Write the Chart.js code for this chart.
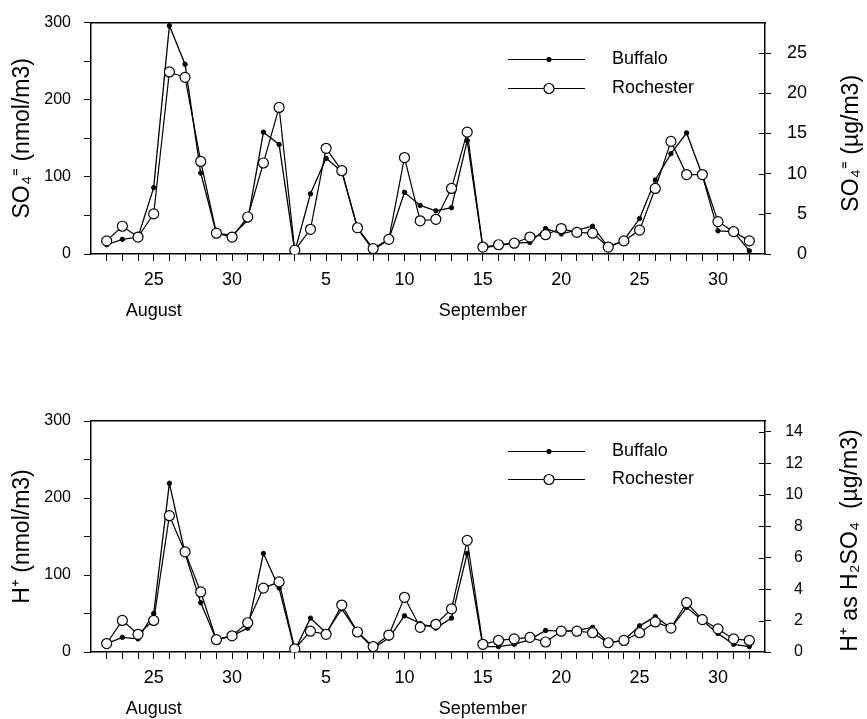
<!DOCTYPE html>
<html>
<head>
<meta charset="utf-8">
<script src="https://cdn.jsdelivr.net/npm/chart.js@4.4.0/dist/chart.umd.min.js"></script>
<style>
html,body{margin:0;padding:0;background:#fff;}
.wrap{position:absolute;left:0;width:867px;}
#w1{top:0;height:340px;}
#w2{top:340px;height:379px;}
canvas{display:block;}
</style>
</head>
<body>
<div class="wrap" id="w1"><canvas id="c1"></canvas></div>
<div class="wrap" id="w2"><canvas id="c2"></canvas></div>
<script>
// ---- data ----
const days = ['Aug 22','Aug 23','Aug 24','Aug 25','Aug 26','Aug 27','Aug 28','Aug 29','Aug 30','Aug 31',
  'Sep 1','Sep 2','Sep 3','Sep 4','Sep 5','Sep 6','Sep 7','Sep 8','Sep 9','Sep 10',
  'Sep 11','Sep 12','Sep 13','Sep 14','Sep 15','Sep 16','Sep 17','Sep 18','Sep 19','Sep 20',
  'Sep 21','Sep 22','Sep 23','Sep 24','Sep 25','Sep 26','Sep 27','Sep 28','Sep 29','Sep 30',
  'Oct 1','Oct 2'];
const dayTickLabels = ['Aug 25','Aug 30','Sep 5','Sep 10','Sep 15','Sep 20','Sep 25','Sep 30'];
const monthAnchorDays = ['Aug 25','Sep 15'];
const monthLabels = ['August','September'];
const seriesNames = ['Buffalo','Rochester'];

// SO4= (nmol/m3)
const so4Buffalo   = [12,19,22,86,296,246,105,27,24,44,158,142,3,78,124,107,33,5,19,80,63,56,60,147,8,11,14,15,33,26,31,36,9,18,46,96,130,157,102,30,29,4];
const so4Rochester = [17,36,22,52,236,229,120,27,22,48,118,190,5,32,137,108,34,7,19,125,43,45,85,158,9,12,14,22,25,33,28,27,9,17,31,85,146,103,103,42,29,17];
// H+ (nmol/m3)
const hBuffalo   = [11,19,17,50,219,128,64,16,21,31,128,83,2,44,25,56,26,5,18,47,37,31,44,128,7,7,10,16,28,27,28,32,12,15,34,46,31,58,41,24,10,7];
const hRochester = [11,41,23,41,177,130,78,16,21,38,83,91,4,27,23,61,26,7,22,71,32,36,56,145,10,15,17,19,13,27,27,25,12,15,25,39,31,64,42,30,17,15];

const leftTickValues = [0,50,100,150,200,250,300];
const leftMax = 300;
const so4RightMax = 28.8;            // 300 nmol/m3 SO4 in ug/m3
const so4RightTicks = [0,5,10,15,20,25];
const hRightMax = 14.7;              // 300 nmol/m3 H+ as H2SO4 in ug/m3
const hRightTicks = [0,2,4,6,8,10,12,14];

// ---- helpers ----
const FONT = "'Liberation Sans', Arial, Helvetica, sans-serif";
Chart.defaults.font.family = FONT;
Chart.defaults.color = '#000';

function tickLabel(i) {
  const d = days[i];
  if (!dayTickLabels.includes(d)) return '';
  const num = d.split(' ')[1];
  const m = monthAnchorDays.indexOf(d);
  return m >= 0 ? [num, monthLabels[m]] : num;
}

const insideLegend = {
  id: 'insideLegend',
  afterDatasetsDraw(chart, args, opts) {
    const {ctx, chartArea} = chart;
    chart.data.datasets.forEach((ds, k) => {
      const y = Math.round(chartArea.top + opts.rows[k]) + 0.5;
      const x1 = chartArea.right - 257, x2 = chartArea.right - 180, xm = chartArea.right - 216;
      ctx.save();
      ctx.strokeStyle = ds.borderColor; ctx.lineWidth = 1;
      ctx.beginPath(); ctx.moveTo(x1, y); ctx.lineTo(x2, y); ctx.stroke();
      ctx.beginPath(); ctx.arc(xm, y, ds.pointRadius, 0, Math.PI * 2);
      ctx.fillStyle = ds.pointBackgroundColor; ctx.fill();
      ctx.lineWidth = ds.pointBorderWidth; ctx.strokeStyle = ds.pointBorderColor; ctx.stroke();
      ctx.fillStyle = '#000'; ctx.font = '18px ' + FONT;
      ctx.textAlign = 'left'; ctx.textBaseline = 'middle';
      ctx.fillText(ds.label, chartArea.right - 153, y);
      ctx.restore();
    });
  }
};

const rightTitle = {
  id: 'rightTitle',
  afterDraw(chart, args, opts) {
    const {ctx, chartArea} = chart;
    ctx.save();
    ctx.translate(opts.x, (chartArea.top + chartArea.bottom) / 2 + opts.dy);
    ctx.rotate(-Math.PI / 2);
    ctx.textAlign = 'center'; ctx.textBaseline = 'middle';
    ctx.font = opts.size + 'px ' + FONT;
    ctx.fillStyle = '#000';
    ctx.fillText(opts.text, 0, 0);
    ctx.restore();
  }
};

const innerRightTicks = {
  id: 'innerRightTicks',
  afterDatasetsDraw(chart) {
    const {ctx, chartArea} = chart;
    const s = chart.scales.y2;
    ctx.save();
    ctx.strokeStyle = '#000'; ctx.lineWidth = 1;
    s.ticks.forEach(t => {
      if (t.value === 0) return;
      const y = Math.round(s.getPixelForValue(t.value)) + 0.5;
      ctx.beginPath(); ctx.moveTo(chartArea.right - 6, y); ctx.lineTo(chartArea.right, y); ctx.stroke();
    });
    ctx.restore();
  }
};

function makeChart(id, cfg) {
  const pts = arr => arr.map((v, i) => ({x: i, y: v}));
  return new Chart(document.getElementById(id), {
    type: 'line',
    data: {
      datasets: [
        {label: seriesNames[0], data: pts(cfg.buf), order: 1, borderColor: '#000', borderWidth: 1.3,
          pointRadius: 2.2, pointBackgroundColor: '#000', pointBorderColor: '#000', pointBorderWidth: 1,
          tension: 0, fill: false},
        {label: seriesNames[1], data: pts(cfg.roc), order: 0, borderColor: '#000', borderWidth: 1.2,
          pointRadius: 5, pointBackgroundColor: '#fff', pointBorderColor: '#000', pointBorderWidth: 1.2,
          tension: 0, fill: false}
      ]
    },
    options: {
      responsive: true, maintainAspectRatio: false, animation: false, devicePixelRatio: 1,
      layout: {padding: {top: cfg.padTop, right: cfg.padRight, left: 0, bottom: 0}},
      plugins: {
        legend: {display: false}, tooltip: {enabled: false},
        insideLegend: {rows: cfg.legendRows},
        rightTitle: {text: cfg.rightTitle, x: cfg.rightTitleX, size: 23, dy: cfg.rightTitleDy}
      },
      scales: {
        x: {
          type: 'linear', position: 'bottom', min: -1, max: days.length,
          afterBuildTicks: s => { s.ticks = days.map((d, i) => ({value: i})); },
          ticks: {autoSkip: false, maxRotation: 0, minRotation: 0, padding: 4, color: '#000',
            font: {size: 18, lineHeight: 1.72}, callback: v => tickLabel(v)},
          grid: {drawOnChartArea: false, tickLength: 7, color: '#000', lineWidth: 1},
          border: {color: '#000', width: 1.5},
          afterFit: s => { s.height = cfg.xHeight; }
        },
        xTop: {
          type: 'linear', position: 'top', min: -1, max: days.length,
          ticks: {display: false}, grid: {display: false},
          border: {display: true, color: '#000', width: 1.5},
          afterFit: s => { s.height = 0; }
        },
        y: {
          type: 'linear', position: 'left', min: 0, max: leftMax,
          afterBuildTicks: s => { s.ticks = leftTickValues.map(v => ({value: v})); },
          ticks: {padding: 13, color: '#000', font: {size: 16}, callback: v => (v % 100 === 0 ? String(v) : '')},
          grid: {drawOnChartArea: false, tickLength: 7, color: '#000'},
          border: {color: '#000', width: 1.5},
          title: {display: true, text: cfg.leftTitle, color: '#000', font: {size: 23}, padding: {top: 9, bottom: 0}},
          afterFit: s => { s.width = 91; }
        },
        y2: {
          type: 'linear', position: 'right', min: 0, max: cfg.rightMax,
          afterBuildTicks: s => { s.ticks = cfg.rightTicks.map(v => ({value: v})); },
          ticks: {crossAlign: 'far', color: '#000', font: {size: cfg.rightFont}},
          grid: {drawOnChartArea: false, tickLength: 6, color: '#000'},
          border: {color: '#000', width: 1.5},
          afterFit: s => { s.width = cfg.rightWidth; }
        }
      }
    },
    plugins: [insideLegend, rightTitle, innerRightTicks]
  });
}

makeChart('c1', {
  buf: so4Buffalo, roc: so4Rochester,
  padTop: 22, padRight: 60, xHeight: 86, rightWidth: 42,
  rightMax: so4RightMax, rightTicks: so4RightTicks, rightFont: 18,
  leftTitle: 'SO\u2084\u207C (nmol/m3)', rightTitle: 'SO\u2084\u207C (\u00B5g/m3)', rightTitleX: 852, rightTitleDy: 5,
  legendRows: [36, 65]
});
makeChart('c2', {
  buf: hBuffalo, roc: hRochester,
  padTop: 81, padRight: 64, xHeight: 67, rightWidth: 38,
  rightMax: hRightMax, rightTicks: hRightTicks, rightFont: 16,
  leftTitle: 'H\u207A (nmol/m3)', rightTitle: 'H\u207A as H\u2082SO\u2084  (\u00B5g/m3)', rightTitleX: 851, rightTitleDy: 4,
  legendRows: [30, 58]
});
</script>
</body>
</html>
